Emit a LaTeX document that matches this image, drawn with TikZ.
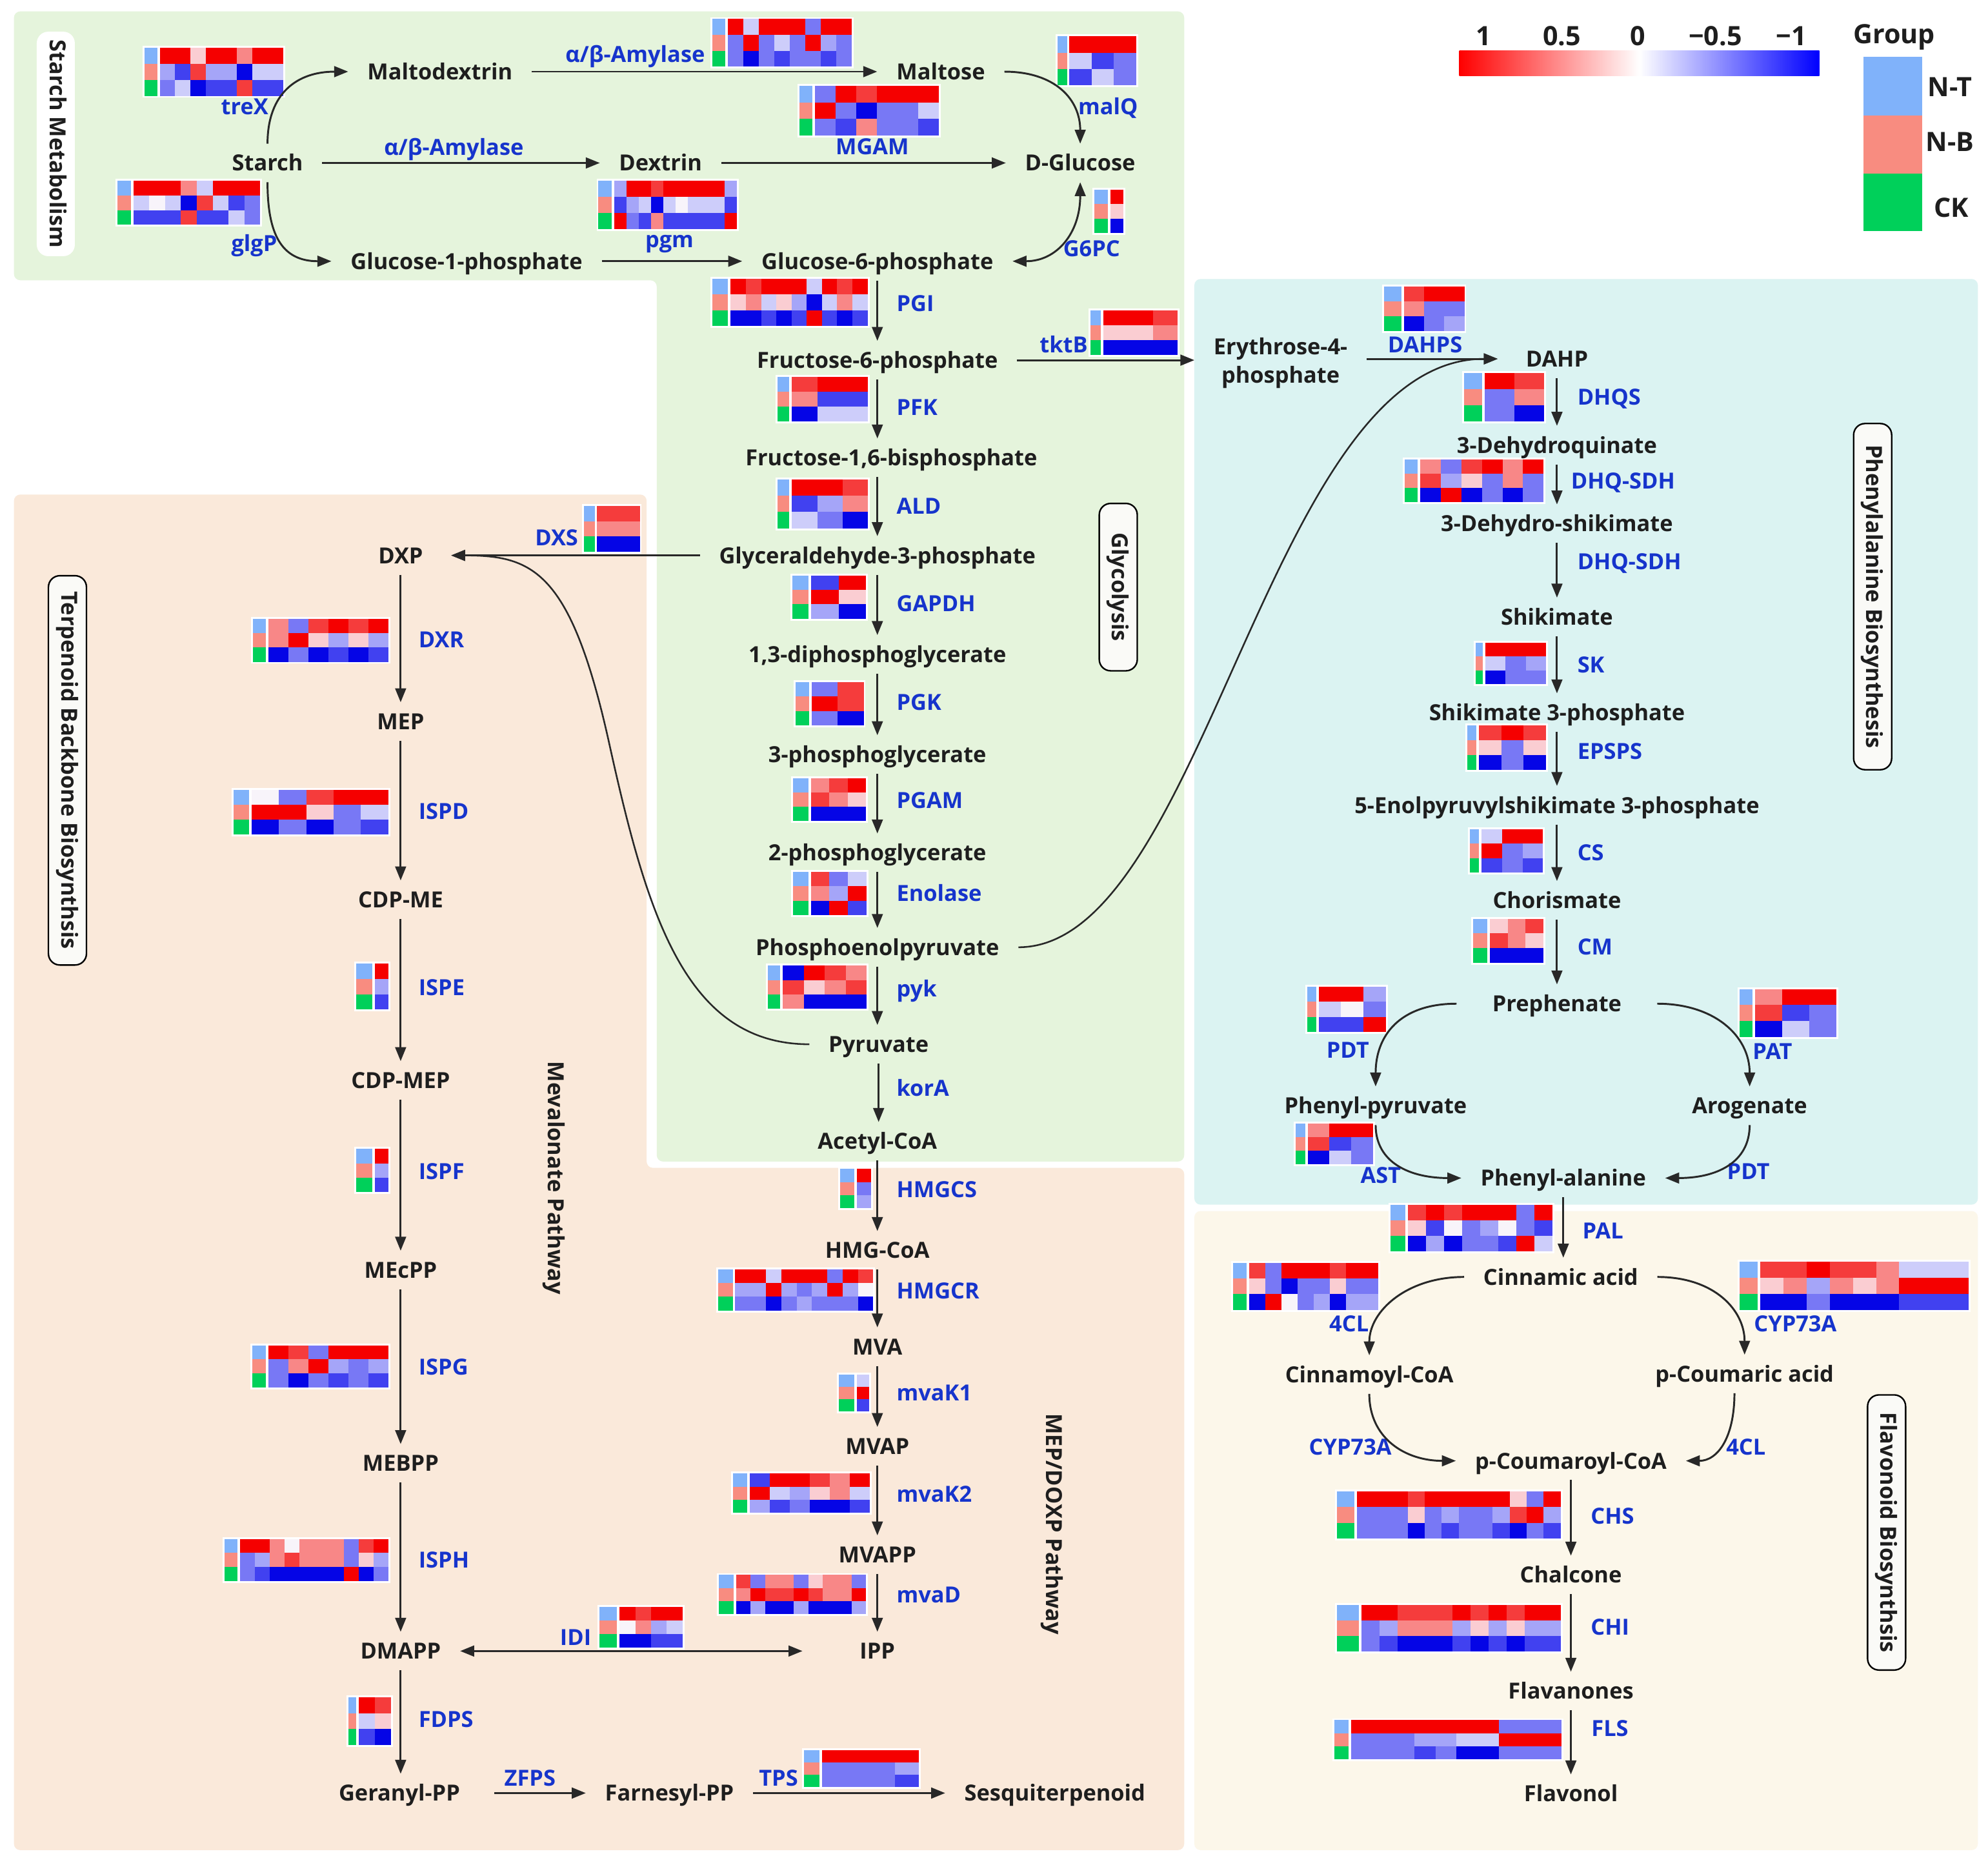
\documentclass[tikz,border=0pt]{standalone}
\usepackage{fontspec}
\setmainfont{Open Sans}
\usetikzlibrary{arrows.meta}
\definecolor{hmR}{RGB}{245,0,0}
\definecolor{hmr}{RGB}{245,60,60}
\definecolor{hmp}{RGB}{248,135,135}
\definecolor{hmq}{RGB}{250,205,210}
\definecolor{hmw}{RGB}{248,244,250}
\definecolor{hmc}{RGB}{205,205,250}
\definecolor{hml}{RGB}{165,165,248}
\definecolor{hmm}{RGB}{120,120,245}
\definecolor{hmb}{RGB}{65,65,240}
\definecolor{hmB}{RGB}{5,5,230}
\definecolor{gNT}{RGB}{128,178,250}
\definecolor{gNB}{RGB}{248,140,128}
\definecolor{gCK}{RGB}{0,208,90}
\definecolor{pgreen}{RGB}{229,244,220}
\definecolor{ppeach}{RGB}{250,233,218}
\definecolor{pcyan}{RGB}{219,243,242}
\definecolor{pcream}{RGB}{252,247,234}
\definecolor{metc}{RGB}{30,30,30}
\definecolor{enzc}{RGB}{22,52,204}
\definecolor{arrc}{RGB}{40,40,40}
\definecolor{labfill}{RGB}{250,250,247}
\newcommand\mfont{\fontsize{17.5}{21}\selectfont\bfseries}
\newcommand\mfontb{\fontsize{17.5}{22.5}\selectfont\bfseries}
\newcommand\lfont{\fontsize{21}{24}\selectfont\bfseries}
% heat map: {x,y}{legend width}{cell width}{row height}{row1}{row2}{row3}
\newcommand{\hmap}[7]{%
\begin{scope}[shift={(#1)}]
 \fill[white] (-1.5,-1.5) rectangle ({#2+1.5},{3*#4+1.5});
 \foreach \c [count=\i] in {#5}{\fill[white] ({#2+2+(\i-1)*#3-1.5},-1.5) rectangle ({#2+2+\i*#3+1.5},{3*#4+1.5});}
 \fill[gNT] (0,0) rectangle (#2,{#4});
 \fill[gNB] (0,{#4}) rectangle (#2,{2*#4});
 \fill[gCK] (0,{2*#4}) rectangle (#2,{3*#4});
 \foreach \c [count=\i] in {#5}{\fill[fill=hm\c] ({#2+2+(\i-1)*#3},0) rectangle ({#2+2+\i*#3},{#4});}
 \foreach \c [count=\i] in {#6}{\fill[fill=hm\c] ({#2+2+(\i-1)*#3},{#4}) rectangle ({#2+2+\i*#3},{2*#4});}
 \foreach \c [count=\i] in {#7}{\fill[fill=hm\c] ({#2+2+(\i-1)*#3},{2*#4}) rectangle ({#2+2+\i*#3},{3*#4});}
\end{scope}}
\begin{document}
\begin{tikzpicture}[x=1pt,y=-1pt,
  met/.style={font=\mfont,text=metc,inner xsep=15pt,inner ysep=8.7pt,text height=12.6pt,text depth=0pt},
  enz/.style={font=\mfont,text=enzc,inner sep=0pt,text height=12.6pt,text depth=0pt},
  lab/.style={font=\mfont,text=metc,rotate=-90,draw=black,line width=1.2pt,rounded corners=9pt,fill=labfill,minimum height=30pt,inner sep=0pt,text height=12.6pt,text depth=3pt},
  labw/.style={lab,draw=none,fill=white},
  leg/.style={font=\lfont,text=metc,inner sep=0pt},
  arr/.style={draw=arrc,line width=1.5pt,-{Triangle[length=11pt,width=8.5pt]}},
  arrb/.style={draw=arrc,line width=1.5pt,{Triangle[length=11pt,width=8.5pt]}-{Triangle[length=11pt,width=8.5pt]}},
  curv/.style={arr,line width=1.3pt}]
\useasboundingbox (0,0) rectangle (1568,1472.3);
\fill[white] (0,0) rectangle (1568,1472.3);
% panels
\fill[pgreen,rounded corners=5pt] (11,9) -- (934,9) -- (934,916) -- (518,916) -- (518,221) -- (11,221) -- cycle;
\fill[ppeach,rounded corners=5pt] (11,390) -- (510,390) -- (510,921) -- (934,921) -- (934,1459) -- (11,1459) -- cycle;
\fill[pcyan,rounded corners=5pt] (942,220) rectangle (1560,950);
\fill[pcream,rounded corners=5pt] (942,955) rectangle (1560,1459);
% section labels
\node[labw,minimum width=177pt] (LStarch) at (44,113.5) {Starch Metabolism};
\node[lab,minimum width=307pt] (LTerp) at (53.2,607.5) {Terpenoid Backbone Biosynthsis};
\node[lab,minimum width=132pt] (LGly) at (882,463) {Glycolysis};
\node[lab,minimum width=273pt] (LPhe) at (1477,470.5) {Phenylalanine Biosynthesis};
\node[lab,minimum width=217pt] (LFla) at (1488,1208.5) {Flavonoid Biosynthsis};
\node[font=\mfont,text=metc,rotate=-90] (LMev) at (437,929) {Mevalonate Pathway};
\node[font=\mfont,text=metc,rotate=-90] (LMEP) at (830,1202) {MEP/DOXP Pathway};
% legend
\shade[left color=red,right color=blue,middle color=white] (1151,40) rectangle (1435,60);
\node[leg] (cb1) at (1170,28.6) {1};
\node[leg] (cb2) at (1232,28.6) {0.5};
\node[leg] (cb3) at (1292,28.6) {0};
\node[leg] (cb4) at (1353,28.6) {−0.5};
\node[leg] (cb5) at (1413,28.6) {−1};
\node[leg] (grp) at (1494,29.5) {Group};
\fill[gNT] (1470,45) rectangle (1516,91);
\fill[gNB] (1470,91) rectangle (1516,137);
\fill[gCK] (1470,137) rectangle (1516,182);
\node[leg] (gNTl) at (1538,68.6) {N-T};
\node[leg] (gNBl) at (1538,112) {N-B};
\node[leg] (gCKl) at (1539,163.5) {CK};
% heat maps
\hmap{114,37.5}{10}{12.15}{12.7}{R,R,q,R,R,p,R,R}{l,b,r,l,l,B,c,c}{m,c,B,b,b,r,b,b}
\hmap{92.7,142.5}{10.5}{12.5}{11.6}{R,R,R,p,c,R,R,R}{c,w,c,B,r,c,b,m}{b,b,b,r,b,b,c,m}
\hmap{562,15}{10}{12.2}{12.5}{R,c,R,R,R,m,R,R}{m,R,m,c,m,R,l,m}{m,B,m,b,m,m,b,m}
\hmap{630.5,67.7}{10.4}{16.3}{13}{m,R,r,R,R,R}{R,m,B,m,m,c}{m,b,p,m,m,b}
\hmap{472,142.5}{10.4}{9.7}{12.7}{l,R,R,r,R,R,R,R,R,l}{b,l,c,B,c,w,c,c,c,b}{R,m,b,p,b,b,b,b,b,R}
\hmap{834,28.6}{7.5}{17.5}{12.9}{R,R,R}{c,b,m}{b,c,m}
\hmap{863,149.5}{11}{10}{11.4}{R}{q}{B}
\hmap{562,220}{12.3}{12}{12.3}{R,r,R,R,R,c,R,r,R}{q,p,c,q,l,B,c,p,c}{B,B,b,B,b,R,b,B,b}
\hmap{613,297}{9.6}{20}{11.7}{r,R,R}{p,b,b}{B,c,c}
\hmap{613,378}{9.6}{20}{12.9}{R,R,r}{b,l,p}{c,m,B}
\hmap{625,454}{12.6}{21.8}{11.3}{b,R}{R,q}{l,B}
\hmap{627.5,538}{10.5}{20.6}{11.3}{m,r}{R,r}{m,B}
\hmap{625.5,613.6}{12}{14.5}{11.3}{p,r,R}{r,p,q}{B,B,B}
\hmap{625.5,687.4}{12}{14.7}{11.4}{r,m,c}{p,l,R}{B,R,b}
\hmap{605.5,761.4}{9.8}{16.6}{11.4}{B,R,r,p}{r,q,p,r}{p,B,B,B}
\hmap{662.4,921.7}{11.6}{11}{10.4}{R}{m}{l}
\hmap{566.2,1001}{11.7}{12.1}{10.8}{R,R,c,R,R,R,m,R,r}{l,l,R,l,m,l,R,l,w}{m,m,B,m,l,m,m,m,B}
\hmap{661.7,1083.8}{11.9}{10.1}{9.8}{c}{R}{b}
\hmap{578,1162}{11.3}{15.8}{10.3}{b,R,R,r,p,R}{R,c,l,q,p,c}{l,b,m,B,B,b}
\hmap{566.7,1242}{11.9}{11.4}{10.3}{r,m,p,p,m,q,p,p,m}{p,R,r,r,R,r,p,p,R}{B,l,B,B,l,B,B,B,l}
\hmap{473,1267}{13.7}{12.4}{10.7}{R,r,R,R}{w,p,l,c}{B,B,b,b}
\hmap{634.3,1380}{12.2}{19.1}{9.8}{R,R,R,R}{m,m,m,l}{m,m,m,b}
\hmap{460.4,399}{8.6}{16.8}{12}{r,r}{p,p}{B,B}
\hmap{199.5,488}{10.2}{15.8}{11.3}{p,m,r,R,r,R}{p,R,q,l,q,l}{B,m,B,b,B,b}
\hmap{184.3,623}{12}{21.6}{11.7}{w,m,r,R,R}{R,R,q,m,c}{B,m,B,m,b}
\hmap{281,760}{12.5}{10.9}{12}{R}{l}{b}
\hmap{281,906}{12.5}{10.9}{11.4}{R}{l}{b}
\hmap{198.8,1061}{10.9}{15.8}{11}{R,r,m,R,R,R}{m,p,R,l,m,l}{m,B,m,b,m,b}
\hmap{177.2,1213.7}{10.2}{11.7}{11}{R,R,p,w,p,p,p,m,r,R}{m,l,p,r,p,p,p,m,q,l}{m,b,B,B,B,B,B,R,B,m}
\hmap{274.7,1338.5}{6.1}{12.7}{12.5}{R,r}{c,q}{b,B}
\hmap{860,245}{8}{19.6}{11.7}{R,R,r}{q,q,p}{B,B,B}
\hmap{1091.6,226}{13.7}{15.9}{11.7}{r,R,R}{p,m,m}{B,m,l}
\hmap{1154.9,294}{14}{23.5}{12.7}{R,r}{m,p}{m,B}
\hmap{1108,362.5}{10.3}{16.2}{11.2}{p,m,r,R,p,R}{r,l,q,m,p,m}{B,R,B,m,B,m}
\hmap{1163.8,507}{5.6}{16}{10.8}{R,R,R}{c,m,l}{B,m,m}
\hmap{1157.5,572}{6.8}{17.7}{11.7}{r,R,r}{q,m,q}{B,m,B}
\hmap{1159.5,654}{6.9}{16.2}{11.4}{c,R,R}{R,m,l}{b,m,b}
\hmap{1162,724.6}{11.2}{14}{11.5}{q,p,r}{r,p,q}{B,B,B}
\hmap{1030.9,778}{7.1}{17.7}{12}{R,R,l}{c,w,m}{b,b,R}
\hmap{1372.2,780}{9.9}{21.4}{12.6}{p,R,R}{r,b,m}{B,c,m}
\hmap{1022,886}{7.4}{17.2}{10.7}{p,R,R}{r,b,m}{B,c,m}
\hmap{1096.7,950}{11.9}{14.25}{12.3}{r,R,r,R,R,R,m,R}{q,b,w,m,l,w,m,b}{B,l,B,m,m,b,R,c}
\hmap{972.6,996}{10.7}{12.7}{12.3}{r,m,R,R,R,r,R,R}{q,m,B,m,m,q,m,m}{B,R,w,m,l,B,l,l}
\hmap{1372.2,995}{14}{18.3}{12.7}{r,r,R,r,r,p,c,c,c}{q,p,l,p,q,p,R,R,R}{B,B,m,B,B,B,b,b,b}
\hmap{1054.4,1176}{13.7}{13.4}{12.4}{R,R,R,r,R,R,R,R,R,q,m,R}{m,m,m,q,m,l,m,m,l,r,R,l}{m,m,m,B,m,b,m,m,b,B,m,b}
\hmap{1054.4,1265.5}{17.5}{14.3}{12.2}{R,R,r,r,r,R,r,R,r,R,R}{m,l,p,p,p,l,q,l,q,l,l}{m,b,B,B,B,b,B,b,B,b,b}
\hmap{1052.4,1356.5}{11.4}{16.6}{10.3}{R,R,R,R,R,R,R,m,m,m}{m,m,m,l,l,c,c,R,R,R}{m,m,m,b,m,B,B,m,m,m}
% metabolites
\node[met] (Starch) at (211,128.5) {Starch};
\node[met] (Malto) at (347,56.5) {Maltodextrin};
\node[met] (Maltose) at (742,56.5) {Maltose};
\node[met] (Dextrin) at (521,128.5) {Dextrin};
\node[met] (DGlc) at (852,128.5) {D-Glucose};
\node[met] (G1P) at (368,206) {Glucose-1-phosphate};
\node[met] (G6P) at (692,206) {Glucose-6-phosphate};
\node[met] (F6P) at (692,284) {Fructose-6-phosphate};
\node[met] (F16BP) at (703,361) {Fructose-1,6-bisphosphate};
\node[met] (GAP) at (692,438) {Glyceraldehyde-3-phosphate};
\node[met] (DPG) at (692,516) {1,3-diphosphoglycerate};
\node[met] (PGc) at (692,595) {3-phosphoglycerate};
\node[met] (PGb) at (692,672.5) {2-phosphoglycerate};
\node[met] (PEP) at (692,747) {Phosphoenolpyruvate};
\node[met] (Pyr) at (693,823.5) {Pyruvate};
\node[met] (AcCoA) at (692,900) {Acetyl-CoA};
\node[met] (HMGCoA) at (692,986) {HMG-CoA};
\node[met] (MVA) at (692,1062) {MVA};
\node[met] (MVAP) at (692,1140.5) {MVAP};
\node[met] (MVAPP) at (692,1226) {MVAPP};
\node[met] (IPP) at (692,1302) {IPP};
\node[met,inner xsep=22pt] (DXP) at (316,438) {DXP};
\node[met] (MEP) at (316,569) {MEP};
\node[met] (CDPME) at (316,709.5) {CDP-ME};
\node[met] (CDPMEP) at (316,852) {CDP-MEP};
\node[met] (MEcPP) at (316,1001.5) {MEcPP};
\node[met] (MEBPP) at (316,1154) {MEBPP};
\node[met] (DMAPP) at (316,1302) {DMAPP};
\node[met] (GerPP) at (315,1414) {Geranyl-PP};
\node[met] (FarPP) at (528,1414) {Farnesyl-PP};
\node[met] (Sesq) at (832,1414) {Sesquiterpenoid};
\node[font=\mfontb,text=metc,align=center,inner xsep=15pt,inner ysep=1pt] (E4P) at (1010,286.5) {Erythrose-4-\\phosphate};
\node[met,inner xsep=22pt] (DAHP) at (1228,283) {DAHP};
\node[met] (DHQ) at (1228,351) {3-Dehydroquinate};
\node[met] (DHS) at (1228,413) {3-Dehydro-shikimate};
\node[met] (Shik) at (1228,486.5) {Shikimate};
\node[met] (SCP) at (1228,562) {Shikimate 3-phosphate};
\node[met] (EPSP) at (1228,635) {5-Enolpyruvylshikimate 3-phosphate};
\node[met] (Chor) at (1228,710) {Chorismate};
\node[met,inner xsep=28pt] (Preph) at (1228,791.5) {Prephenate};
\node[met] (PhePyr) at (1085,872) {Phenyl-pyruvate};
\node[met] (Arog) at (1380,872) {Arogenate};
\node[met] (PheAla) at (1233,929) {Phenyl-alanine};
\node[met] (Cinn) at (1231,1007) {Cinnamic acid};
\node[met] (CinCoA) at (1080,1084) {Cinnamoyl-CoA};
\node[met] (pCouA) at (1376,1083.5) {p-Coumaric acid};
\node[met] (pCouCoA) at (1239,1152) {p-Coumaroyl-CoA};
\node[met] (Chalc) at (1239,1242) {Chalcone};
\node[met] (Flavan) at (1239,1333.5) {Flavanones};
\node[met] (Flavonol) at (1239,1414.5) {Flavonol};
% enzymes
\node[enz] (eTreX) at (193,84) {treX};
\node[enz] (eGlgP) at (200.5,192) {glgP};
\node[enz] (eAmyA) at (358,116) {α/β-Amylase};
\node[enz] (eAmyB) at (501,43) {α/β-Amylase};
\node[enz] (eMGAM) at (688,115.5) {MGAM};
\node[enz] (ePgm) at (528,189) {pgm};
\node[enz] (eMalQ) at (874,84) {malQ};
\node[enz] (eGPC) at (861,196) {G6PC};
\node[enz] (eTktB) at (839,272) {tktB};
\node[enz] (eDAHPS) at (1124,272) {DAHPS};
\node[enz] (ePDTa) at (1063,828) {PDT};
\node[enz] (ePAT) at (1398,829) {PAT};
\node[enz] (eAST) at (1089,927) {AST};
\node[enz] (ePDTb) at (1379,924) {PDT};
\node[enz] (eCLa) at (1064,1044) {4CL};
\node[enz] (eCYPa) at (1416,1044) {CYP73A};
\node[enz] (eCYPb) at (1065,1141) {CYP73A};
\node[enz] (eCLb) at (1377,1141) {4CL};
\node[enz] (eDXS) at (439,424) {DXS};
\node[enz] (eIDI) at (454,1291) {IDI};
\node[enz] (eZFPS) at (418,1402) {ZFPS};
\node[enz] (eTPS) at (614,1402) {TPS};
\node[enz,anchor=west] (ePGI) at (707,239) {PGI};
\node[enz,anchor=west] (ePFK) at (707,321) {PFK};
\node[enz,anchor=west] (eALD) at (707,399) {ALD};
\node[enz,anchor=west] (eGAPDH) at (707,476) {GAPDH};
\node[enz,anchor=west] (ePGK) at (707,554) {PGK};
\node[enz,anchor=west] (ePGAM) at (707,631) {PGAM};
\node[enz,anchor=west] (eEno) at (707,704.5) {Enolase};
\node[enz,anchor=west] (ePyk) at (707,779.7) {pyk};
\node[enz,anchor=west] (eKorA) at (707,858) {korA};
\node[enz,anchor=west] (eHMGCS) at (707,938) {HMGCS};
\node[enz,anchor=west] (eHMGCR) at (707,1018) {HMGCR};
\node[enz,anchor=west] (eMvaKa) at (707,1098.5) {mvaK1};
\node[enz,anchor=west] (eMvaKb) at (707,1178) {mvaK2};
\node[enz,anchor=west] (eMvaD) at (707,1257.7) {mvaD};
\node[enz,anchor=west] (eDXR) at (330,504.5) {DXR};
\node[enz,anchor=west] (eISPD) at (330,640) {ISPD};
\node[enz,anchor=west] (eISPE) at (330,778.6) {ISPE};
\node[enz,anchor=west] (eISPF) at (330,923.6) {ISPF};
\node[enz,anchor=west] (eISPG) at (330,1078) {ISPG};
\node[enz,anchor=west] (eISPH) at (330,1230) {ISPH};
\node[enz,anchor=west] (eFDPS) at (330,1356) {FDPS};
\node[enz,anchor=west] (eDHQS) at (1244,313) {DHQS};
\node[enz,anchor=west] (eSDHa) at (1239,379) {DHQ-SDH};
\node[enz,anchor=west] (eSDHb) at (1244,443) {DHQ-SDH};
\node[enz,anchor=west] (eSK) at (1244,524) {SK};
\node[enz,anchor=west] (eEPSPS) at (1244,592.6) {EPSPS};
\node[enz,anchor=west] (eCS) at (1244,672.4) {CS};
\node[enz,anchor=west] (eCM) at (1244,746.8) {CM};
\node[enz,anchor=west] (ePAL) at (1248,970.4) {PAL};
\node[enz,anchor=west] (eCHS) at (1254.5,1195.3) {CHS};
\node[enz,anchor=west] (eCHI) at (1254.5,1283) {CHI};
\node[enz,anchor=west] (eFLS) at (1255,1363) {FLS};
% starch arrows
\draw[arr] (Starch.north) .. controls +(0,-40) and +(-40,0) .. (Malto.west);
\draw[arr] (Starch.south) .. controls +(0,40) and +(-40,0) .. (G1P.west);
\draw[arr] (Starch.east) -- (Dextrin.west);
\draw[arr] (Malto.east) -- (Maltose.west);
\draw[arr] (Dextrin.east) -- (DGlc.west);
\draw[arr] (Maltose.east) .. controls +(40,0) and +(0,-35) .. (DGlc.north);
\draw[arrb] (DGlc.south) .. controls +(0,40) and +(35,0) .. (G6P.east);
\draw[arr] (G1P.east) -- (G6P.west);
% vertical chains
\foreach \a/\b in {G6P/F6P,F6P/F16BP,GAP/DPG,DPG/PGc,PGc/PGb,PGb/PEP,PEP/Pyr,Pyr/AcCoA,AcCoA/HMGCoA,HMGCoA/MVA,MVA/MVAP,MVAP/MVAPP,MVAPP/IPP,DXP/MEP,MEP/CDPME,CDPME/CDPMEP,CDPMEP/MEcPP,MEcPP/MEBPP,MEBPP/DMAPP,DMAPP/GerPP,DAHP/DHQ,DHQ/DHS,DHS/Shik,Shik/SCP,SCP/EPSP,EPSP/Chor,Chor/Preph,PheAla/Cinn,pCouCoA/Chalc,Chalc/Flavan,Flavan/Flavonol}
  {\draw[arr] (\a.south) -- (\a.south |- \b.north);}
\draw[arr] (F6P.south |- F16BP.south) -- (GAP.north);
% cross links
\draw[arr] (F6P.east) -- (F6P.east -| E4P.west);
\draw[arr] (E4P.east |- DAHP.west) -- (DAHP.west);
\draw[arr] (GAP.west) -- (GAP.west -| DXP.east);
\draw[curv] (PEP.east) .. controls (950,747) and (1000,283) .. (DAHP.west);
\draw[curv] (Pyr.west) .. controls (540,823.5) and (510,720) .. (480,584) .. controls (450,450) and (420,438) .. (DXP.east);
\draw[arrb,shorten >=30pt] (DMAPP.east) -- (IPP.west);
\draw[arr,shorten <=12pt] (GerPP.east) -- (FarPP.west);
\draw[arr] (FarPP.east) -- (Sesq.west);
% phenylalanine branches
\draw[arr] (Preph.west) .. controls +(-45,0) and +(0,-40) .. (PhePyr.north);
\draw[arr] (Preph.east) .. controls +(45,0) and +(0,-40) .. (Arog.north);
\draw[arr] (PhePyr.south) .. controls +(0,30) and +(-40,0) .. (PheAla.west);
\draw[arr] (Arog.south) .. controls +(0,30) and +(40,0) .. (PheAla.east);
% flavonoid branches
\draw[arr] (Cinn.west) .. controls +(-45,0) and +(0,-35) .. (CinCoA.north);
\draw[arr] (Cinn.east) .. controls +(45,0) and +(0,-35) .. (pCouA.north);
\draw[arr] (CinCoA.south) .. controls +(0,35) and +(-40,0) .. (pCouCoA.west);
\draw[arr] ([xshift=-8pt]pCouA.south) .. controls +(0,35) and +(25,0) .. (pCouCoA.east);
\end{tikzpicture}
\end{document}
